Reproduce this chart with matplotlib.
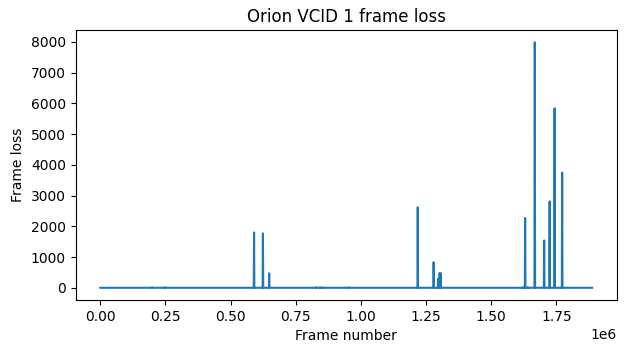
import matplotlib
matplotlib.use("Agg")
import matplotlib.pyplot as plt
import numpy as np

# Frame numbers where frame loss was observed, and the loss at each
loss_frames = [199000, 248000, 590000, 624000, 648000, 828000, 842000, 852000,
               953000, 1218000, 1279000, 1296000, 1302000, 1306000, 1622000,
               1630000, 1640000, 1667000, 1703000, 1724000, 1743000, 1772000]
loss_values = [15, 15, 1800, 1770, 470, 15, 15, 15,
               15, 2620, 830, 290, 480, 470, 15,
               2270, 15, 7990, 1540, 2810, 5840, 3750]
first_frame = 0
last_frame = 1887000

# Build the per-frame series (zero loss elsewhere)
xs = [first_frame]
ys = [0]
half = 1200
for f, v in zip(loss_frames, loss_values):
    xs += [f - half, f, f + half]
    ys += [0, v, 0]
xs.append(last_frame)
ys.append(0)

fig = plt.figure(figsize=(6.27, 3.53), dpi=100)
ax = fig.add_axes([0.1207, 0.150, 0.8629, 0.765])
ax.plot(xs, ys, color="#1f77b4", linewidth=1.5)
ax.set_title("Orion VCID 1 frame loss")
ax.set_xlabel("Frame number")
ax.set_ylabel("Frame loss")
fig.savefig("out.png", dpi=100)
